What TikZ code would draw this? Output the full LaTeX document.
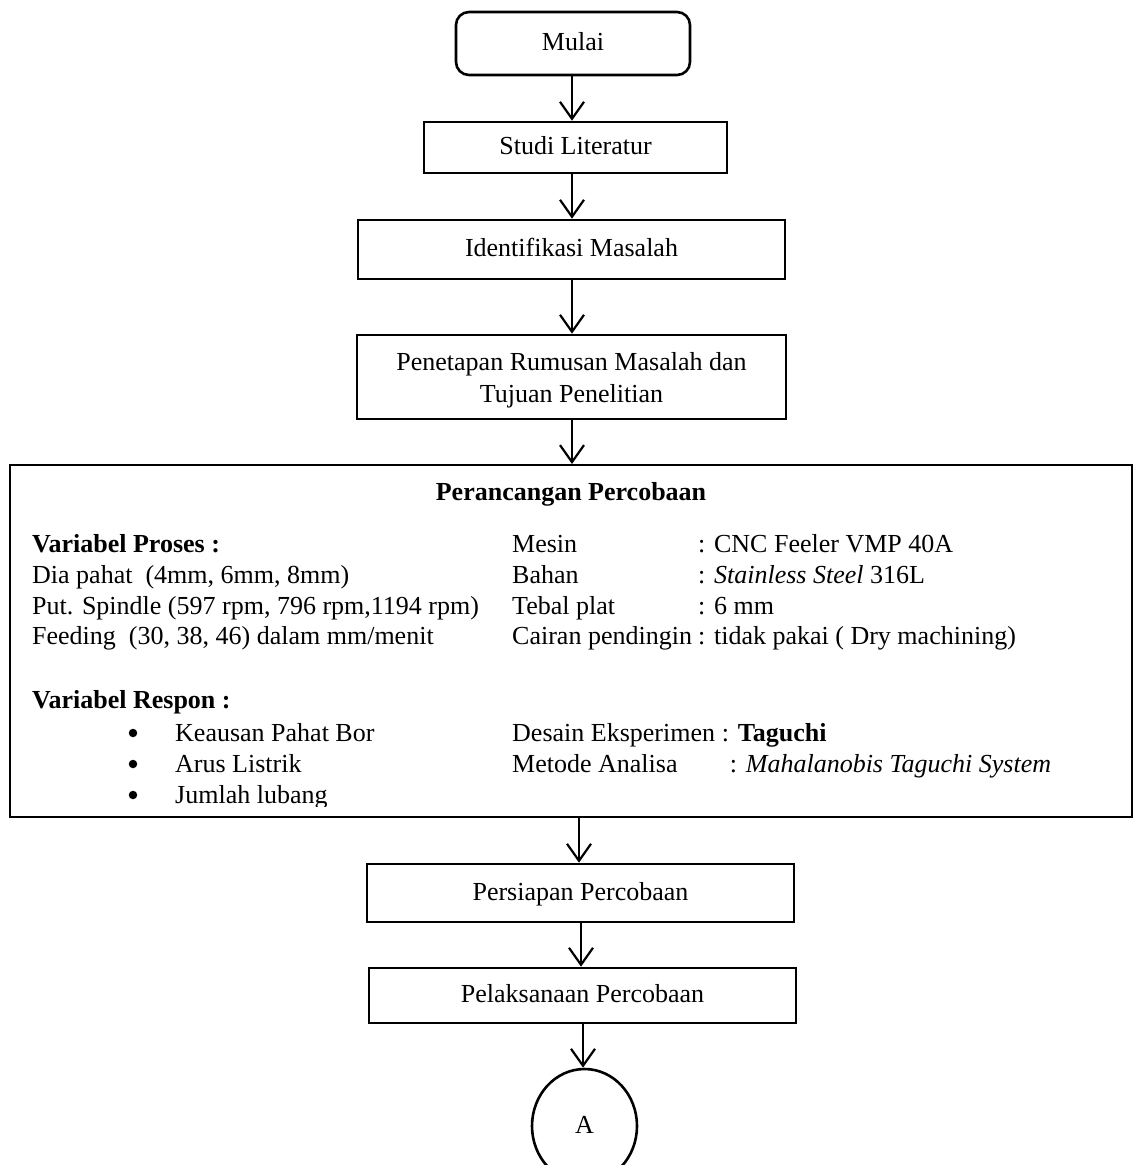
\documentclass[tikz,border=0pt]{standalone}
\usepackage{fontspec}
\setmainfont{Liberation Serif}
\usetikzlibrary{arrows.meta,shapes.geometric}
\tikzset{
  every node/.style={font=\fontsize{26}{32}\selectfont},
  box/.style={draw, line width=2.6pt, rectangle, inner sep=0pt, text height=17pt, text depth=3pt, align=center},
  flow/.style={line width=2.2pt, -{Straight Barb[length=17pt,width=24pt,line width=2.2pt]}},
  txt/.style={anchor=base west, inner sep=0pt},
  bul/.style={circle, fill=black, inner sep=0pt, minimum size=8.5pt}
}
\begin{document}
\begin{tikzpicture}[x=1pt,y=-1pt]
\clip (0,0) rectangle (1133,1165);
\fill[white] (0,0) rectangle (1133,1165);

% flow boxes
\node[box, rounded corners=13pt, minimum width=234pt, minimum height=63pt] (mulai) at (573,43.5) {Mulai};
\node[box, minimum width=303pt, minimum height=51pt] (studi) at (575.5,147.5) {Studi Literatur};
\node[box, minimum width=427pt, minimum height=59pt] (ident) at (571.5,249.5) {Identifikasi Masalah};
\node[box, minimum width=429pt, minimum height=84pt, text height=, text depth=] (penet) at (571.5,377) {\rule{0pt}{24pt}Penetapan Rumusan Masalah dan\\Tujuan Penelitian};
\node[draw, line width=2pt, rectangle, inner sep=0pt, minimum width=1122pt, minimum height=352pt] (design) at (571,641) {};
\node[box, minimum width=427pt, minimum height=58pt] (persiapan) at (580.5,893) {Persiapan Percobaan};
\node[box, minimum width=427pt, minimum height=55pt] (pelaks) at (582.5,995.5) {Pelaksanaan Percobaan};
\node[draw, line width=2.6pt, ellipse, inner sep=0pt, minimum width=105pt, minimum height=114pt, text height=17pt, text depth=3pt] (conA) at (584.5,1126) {A};

% design box contents
\begin{scope}
\clip (10,465) rectangle (1132,806);
\node[anchor=base, inner sep=0pt] (title) at (571,500) {\textbf{Perancangan Percobaan}};

\node[txt] (vp) at (32,552) {\textbf{Variabel Proses :}};
\node[txt] (dia) at (32,583) {Dia pahat\ \ (4mm, 6mm, 8mm)};
\node[txt] (put) at (32,614) {Put. Spindle (597 rpm, 796 rpm,1194 rpm)};
\node[txt] (feed) at (32,644.5) {Feeding\ \ (30, 38, 46) dalam mm/menit};

\node[txt] (vr) at (32,708) {\textbf{Variabel Respon :}};
\node[bul] (b1) at (133,733) {};
\node[txt] (r1) at (175,741) {Keausan Pahat Bor};
\node[bul] (b2) at (133,764) {};
\node[txt] (r2) at (175,772) {Arus Listrik};
\node[bul] (b3) at (133,795) {};
\node[txt] (r3) at (175,803) {Jumlah lubang};

\node[txt] (mesl) at (512,552) {Mesin};
\node[txt] (mesv) at (698,552) {: CNC Feeler VMP 40A};
\node[txt] (bahl) at (512,583) {Bahan};
\node[txt] (bahv) at (698,583) {: \textit{Stainless Steel} 316L};
\node[txt] (tebl) at (512,614) {Tebal plat};
\node[txt] (tebv) at (698,614) {: 6 mm};
\node[txt] (cail) at (512,644.5) {Cairan pendingin};
\node[txt] (caiv) at (698,644.5) {: tidak pakai ( Dry machining)};

\node[txt] (desl) at (512,741) {Desain Eksperimen};
\node[txt] (desv) at ([xshift=6.5pt]desl.base east) {: \textbf{Taguchi}};
\node[txt] (metl) at (512,772) {Metode Analisa};
\node[txt] (metv) at ([xshift=8pt]desv.base west |- metl.base) {: \textit{Mahalanobis Taguchi System}};
\end{scope}

% connectors
\draw[flow] (mulai.south -| 572,0) -- (studi.north -| 572,0);
\draw[flow] (studi.south -| 572,0) -- (ident.north -| 572,0);
\draw[flow] (ident.south -| 572,0) -- (penet.north -| 572,0);
\draw[flow] (penet.south -| 572,0) -- (design.north -| 572,0);
\draw[flow] (design.south -| 579,0) -- (persiapan.north -| 579,0);
\draw[flow] (persiapan.south -| 581,0) -- (pelaks.north -| 581,0);
\draw[flow] (pelaks.south -| 583,0) -- (conA.north -| 583,0);
\end{tikzpicture}
\end{document}
